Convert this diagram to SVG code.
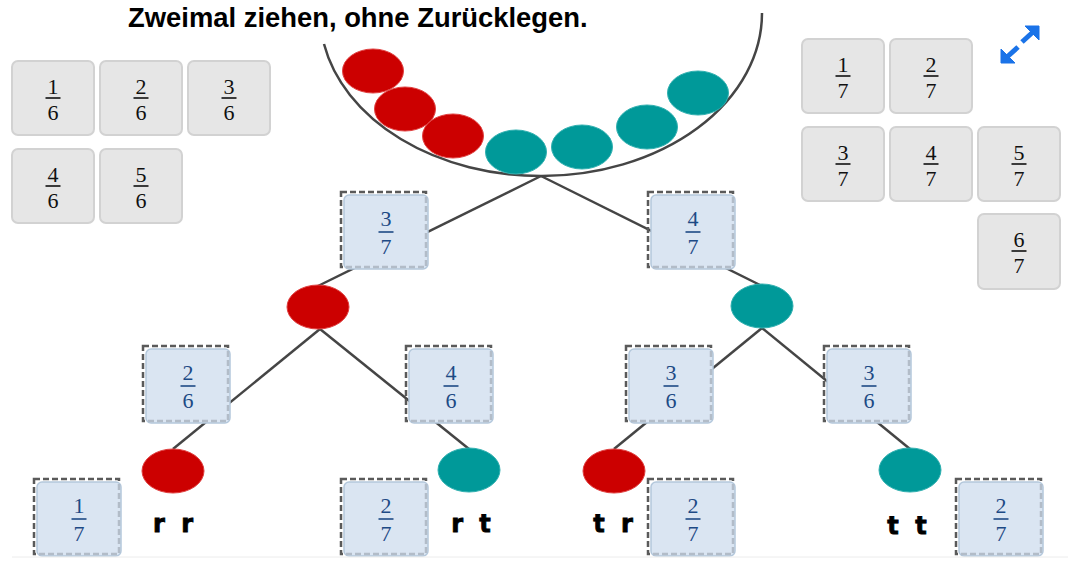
<svg xmlns="http://www.w3.org/2000/svg" width="1071" height="574" viewBox="0 0 1071 574">
<style>
.card{fill:#e6e6e6;stroke:#d2d2d2;stroke-width:2}
.fr{font-family:"Liberation Serif","DejaVu Serif",serif;font-size:22px;text-anchor:middle;fill:#111}
.frb{stroke:#111;stroke-width:1.6}
.tfr{font-family:"Liberation Serif","DejaVu Serif",serif;font-size:22px;text-anchor:middle;fill:#1d4a85}
.tfrb{stroke:#1d4a85;stroke-width:1.6}
.dash{fill:none;stroke:#5a5a5a;stroke-width:2.5;stroke-dasharray:6 3}
.box{fill:#dae5f2;stroke:#b4c8dc;stroke-width:1.5}
.ldash{fill:none;stroke:#b2bcc8;stroke-width:2.5;stroke-dasharray:6 3}
.red{fill:#cc0000;stroke:#e04040;stroke-width:1}
.teal{fill:#009999;stroke:#30b0b0;stroke-width:1}
.conn{stroke:#454545;stroke-width:2.5;fill:none}
.lbl{font-family:"DejaVu Sans","Liberation Sans",sans-serif;font-weight:bold;font-size:24px;text-anchor:middle;fill:#000;stroke:#000;stroke-width:0.8;word-spacing:8px}
.title{font-family:"Liberation Sans",Arial,sans-serif;font-weight:bold;font-size:27.4px;fill:#000}
</style>

<text class="title" x="128" y="27">Zweimal ziehen, ohne Zurücklegen.</text>

<g id="bowl">
<path class="conn" d="M 324 44 A 221 163 0 0 0 542 176 A 221 163 0 0 0 762 13"/>
<ellipse class="red" cx="373" cy="71" rx="30.5" ry="22"/>
<ellipse class="red" cx="405" cy="109" rx="30.5" ry="22"/>
<ellipse class="red" cx="453" cy="136" rx="30.5" ry="22"/>
<ellipse class="teal" cx="516" cy="152" rx="30.5" ry="22"/>
<ellipse class="teal" cx="582" cy="147" rx="30.5" ry="22"/>
<ellipse class="teal" cx="647" cy="127" rx="30.5" ry="22"/>
<ellipse class="teal" cx="698" cy="93" rx="30.5" ry="22"/>
</g>

<g id="card-1-6"><rect class="card" x="12" y="61" width="82" height="74" rx="6"/><text class="fr" x="53" y="94">1</text><line class="frb" x1="45.5" y1="98" x2="60.5" y2="98"/><text class="fr" x="53" y="120">6</text></g>
<g id="card-2-6"><rect class="card" x="100" y="61" width="82" height="74" rx="6"/><text class="fr" x="141" y="94">2</text><line class="frb" x1="133.5" y1="98" x2="148.5" y2="98"/><text class="fr" x="141" y="120">6</text></g>
<g id="card-3-6"><rect class="card" x="188" y="61" width="82" height="74" rx="6"/><text class="fr" x="229" y="94">3</text><line class="frb" x1="221.5" y1="98" x2="236.5" y2="98"/><text class="fr" x="229" y="120">6</text></g>
<g id="card-4-6"><rect class="card" x="12" y="149" width="82" height="74" rx="6"/><text class="fr" x="53" y="182">4</text><line class="frb" x1="45.5" y1="186" x2="60.5" y2="186"/><text class="fr" x="53" y="208">6</text></g>
<g id="card-5-6"><rect class="card" x="100" y="149" width="82" height="74" rx="6"/><text class="fr" x="141" y="182">5</text><line class="frb" x1="133.5" y1="186" x2="148.5" y2="186"/><text class="fr" x="141" y="208">6</text></g>

<g id="card-1-7"><rect class="card" x="802" y="39" width="82" height="74" rx="6"/><text class="fr" x="843" y="72">1</text><line class="frb" x1="835.5" y1="76" x2="850.5" y2="76"/><text class="fr" x="843" y="98">7</text></g>
<g id="card-2-7"><rect class="card" x="890" y="39" width="82" height="74" rx="6"/><text class="fr" x="931" y="72">2</text><line class="frb" x1="923.5" y1="76" x2="938.5" y2="76"/><text class="fr" x="931" y="98">7</text></g>
<g id="card-3-7"><rect class="card" x="802" y="127" width="82" height="74" rx="6"/><text class="fr" x="843" y="160">3</text><line class="frb" x1="835.5" y1="164" x2="850.5" y2="164"/><text class="fr" x="843" y="186">7</text></g>
<g id="card-4-7"><rect class="card" x="890" y="127" width="82" height="74" rx="6"/><text class="fr" x="931" y="160">4</text><line class="frb" x1="923.5" y1="164" x2="938.5" y2="164"/><text class="fr" x="931" y="186">7</text></g>
<g id="card-5-7"><rect class="card" x="978" y="127" width="82" height="74" rx="6"/><text class="fr" x="1019" y="160">5</text><line class="frb" x1="1011.5" y1="164" x2="1026.5" y2="164"/><text class="fr" x="1019" y="186">7</text></g>
<g id="card-6-7"><rect class="card" x="978" y="214" width="82" height="75" rx="6"/><text class="fr" x="1019" y="247">6</text><line class="frb" x1="1011.5" y1="251" x2="1026.5" y2="251"/><text class="fr" x="1019" y="273">7</text></g>

<g id="expand-icon" fill="#1a73e8" stroke="#1a73e8">
<polygon points="1025,26 1039,26 1039,40" stroke-width="1"/>
<line x1="1033" y1="32" x2="1022" y2="42" stroke-width="5"/>
<polygon points="1001,49 1001,63 1015,63" stroke-width="1"/>
<line x1="1007" y1="57" x2="1018" y2="47" stroke-width="5"/>
</g>

<g id="connectors">
<line class="conn" x1="541" y1="176" x2="318" y2="286"/>
<line class="conn" x1="541" y1="176" x2="762" y2="286"/>
<line class="conn" x1="320" y1="329" x2="173" y2="449"/>
<line class="conn" x1="320" y1="329" x2="469" y2="449"/>
<line class="conn" x1="762" y1="328" x2="614" y2="449"/>
<line class="conn" x1="762" y1="328" x2="910" y2="449"/>
</g>

<g id="p-3-7"><rect class="dash" x="341" y="192" width="85" height="75"/><rect class="box" x="344" y="195" width="84" height="74" rx="5"/><path class="ldash" d="M426 197 V267 H346"/><text class="tfr" x="386" y="226">3</text><line class="tfrb" x1="378.5" y1="232" x2="393.5" y2="232"/><text class="tfr" x="386" y="254">7</text></g>
<g id="p-4-7"><rect class="dash" x="648" y="192" width="85" height="75"/><rect class="box" x="651" y="195" width="84" height="74" rx="5"/><path class="ldash" d="M733 197 V267 H653"/><text class="tfr" x="693" y="226">4</text><line class="tfrb" x1="685.5" y1="232" x2="700.5" y2="232"/><text class="tfr" x="693" y="254">7</text></g>
<g id="n-red1"><ellipse class="red" cx="318" cy="307" rx="31" ry="22"/></g>
<g id="n-teal1"><ellipse class="teal" cx="762" cy="306" rx="31" ry="22"/></g>

<g id="p-2-6"><rect class="dash" x="143" y="346" width="85" height="75"/><rect class="box" x="146" y="349" width="84" height="74" rx="5"/><path class="ldash" d="M228 351 V421 H148"/><text class="tfr" x="188" y="380">2</text><line class="tfrb" x1="180.5" y1="386" x2="195.5" y2="386"/><text class="tfr" x="188" y="408">6</text></g>
<g id="p-4-6"><rect class="dash" x="406" y="346" width="85" height="75"/><rect class="box" x="409" y="349" width="84" height="74" rx="5"/><path class="ldash" d="M491 351 V421 H411"/><text class="tfr" x="451" y="380">4</text><line class="tfrb" x1="443.5" y1="386" x2="458.5" y2="386"/><text class="tfr" x="451" y="408">6</text></g>
<g id="p-3-6a"><rect class="dash" x="626" y="346" width="85" height="75"/><rect class="box" x="629" y="349" width="84" height="74" rx="5"/><path class="ldash" d="M711 351 V421 H631"/><text class="tfr" x="671" y="380">3</text><line class="tfrb" x1="663.5" y1="386" x2="678.5" y2="386"/><text class="tfr" x="671" y="408">6</text></g>
<g id="p-3-6b"><rect class="dash" x="824" y="346" width="85" height="75"/><rect class="box" x="827" y="349" width="84" height="74" rx="5"/><path class="ldash" d="M909 351 V421 H829"/><text class="tfr" x="869" y="380">3</text><line class="tfrb" x1="861.5" y1="386" x2="876.5" y2="386"/><text class="tfr" x="869" y="408">6</text></g>
<g id="n-rr"><ellipse class="red" cx="173" cy="471" rx="31" ry="22"/></g>
<g id="n-rt"><ellipse class="teal" cx="469" cy="470" rx="31" ry="22"/></g>
<g id="n-tr"><ellipse class="red" cx="614" cy="471" rx="31" ry="22"/></g>
<g id="n-tt"><ellipse class="teal" cx="910" cy="470" rx="31" ry="22"/></g>

<g id="p-1-7"><rect class="dash" x="34" y="479" width="85" height="75"/><rect class="box" x="37" y="482" width="84" height="74" rx="5"/><path class="ldash" d="M119 484 V554 H39"/><text class="tfr" x="79" y="513">1</text><line class="tfrb" x1="71.5" y1="519" x2="86.5" y2="519"/><text class="tfr" x="79" y="541">7</text></g>
<g id="p-2-7a"><rect class="dash" x="341" y="479" width="85" height="75"/><rect class="box" x="344" y="482" width="84" height="74" rx="5"/><path class="ldash" d="M426 484 V554 H346"/><text class="tfr" x="386" y="513">2</text><line class="tfrb" x1="378.5" y1="519" x2="393.5" y2="519"/><text class="tfr" x="386" y="541">7</text></g>
<g id="p-2-7b"><rect class="dash" x="648" y="479" width="85" height="75"/><rect class="box" x="651" y="482" width="84" height="74" rx="5"/><path class="ldash" d="M733 484 V554 H653"/><text class="tfr" x="693" y="513">2</text><line class="tfrb" x1="685.5" y1="519" x2="700.5" y2="519"/><text class="tfr" x="693" y="541">7</text></g>
<g id="p-2-7c"><rect class="dash" x="956" y="479" width="85" height="75"/><rect class="box" x="959" y="482" width="84" height="74" rx="5"/><path class="ldash" d="M1041 484 V554 H961"/><text class="tfr" x="1001" y="513">2</text><line class="tfrb" x1="993.5" y1="519" x2="1008.5" y2="519"/><text class="tfr" x="1001" y="541">7</text></g>

<g id="labels">
<text class="lbl" x="173" y="532">r r</text>
<text class="lbl" x="471" y="532">r t</text>
<text class="lbl" x="613" y="532">t r</text>
<text class="lbl" x="907" y="534">t t</text>
</g>

<line x1="12" y1="557" x2="1068" y2="557" stroke="#ececec" stroke-width="1"/>
</svg>
